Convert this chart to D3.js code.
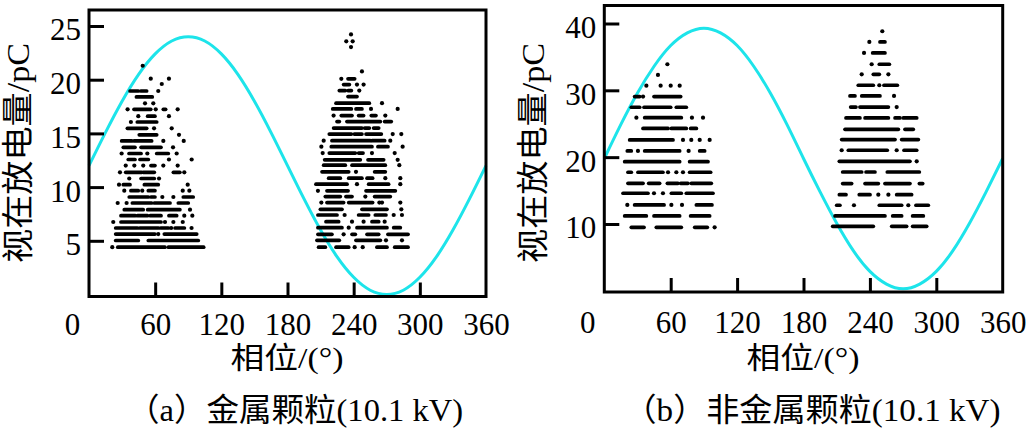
<!DOCTYPE html>
<html><head><meta charset="utf-8">
<script src="https://cdn.jsdelivr.net/npm/d3@7"></script>
<style>html,body{margin:0;padding:0;background:#fff;} svg{display:block;}</style>
</head><body>
<svg id="chart" width="1026" height="430"></svg>
<script>
// ---------- data ----------
const phaseTickValues = [0, 60, 120, 180, 240, 300, 360];
const metalYTicks = [5, 10, 15, 20, 25];
const nonMetalYTicks = [10, 20, 30, 40];
const yTitle = "视在放电量/pC";
const xTitle = "相位/(°)";
const captions = ["（a）金属颗粒(10.1 kV)", "（b）非金属颗粒(10.1 kV)"];

// reference voltage waveform, read every 15°
const sinePhase = [0,15,30,45,60,75,90,105,120,135,150,165,180,195,210,225,240,255,270,285,300,315,330,345,360];
const metalSine = [12,15.1,18,20.5,22.4,23.6,24,23.6,22.4,20.5,18,15.1,12,8.9,6,3.5,1.6,0.4,0,0.4,1.6,3.5,6,8.9,12];
const nonMetalSine = [19.8,24.9,29.6,33.6,36.7,38.6,39.3,38.6,36.7,33.6,29.6,24.9,19.8,14.8,10.1,6.0,2.9,1.0,0.3,1.0,2.9,6.0,10.1,14.8,19.8];

// PRPD pulses: [charge pC, [phase | [phaseStart, phaseEnd] runs]]
const metalPos = [
 [21.3,[48.7]],
 [20.1,[56.0,72.5]],
 [19.6,[66.0]],
 [18.95,[[37.2,44.7],[47.0,52.3],62.8]],
 [18.4,[[43.0,57.4]]],
 [17.8,[50.8,58.3]],
 [17.24,[35.0,[40.8,56.0],60.5,[67.4,69.5],80.4]],
 [16.6,[44.7,[53.2,59.8],72.5]],
 [16.06,[38.0,[43.8,61.4]]],
 [15.47,[[34.8,52.3],59.0,75.0]],
 [14.87,[[45.6,61.4],81.6]],
 [14.3,[[29.6,38.7],[40.8,56.8],67.4,85.9]],
 [13.7,[[31.1,41.7],[47.2,65.3],76.2]],
 [13.13,[29.6,[36.3,47.2],52.9,[61.4,71.9],79.5]],
 [12.57,[[35.6,41.7],[46.2,53.8],72.5,93.1]],
 [12.0,[33.3,41.1,49.2,[56.2,59.8],67.4,80.4]],
 [11.38,[28.1,[33.3,47.8],[49.2,59.2],[76.5,82.4],86.4]],
 [10.8,[36.5,[47.2,59.2],63.5]],
 [10.23,[27.2,[31.1,37.2],[50.2,62.8],89.5]],
 [9.67,[32.0,[38.0,44.7],48.3,[53.8,59.8],85.0,91.0]],
 [9.08,[[36.5,53.8],[56.2,59.8],66.5,76.5,[85.5,94.5]]],
 [8.52,[26.0,34.1,[39.3,56.8],[59.2,73.5],[81.0,90.0]]],
 [7.9,[[32.0,49.2],[53.2,82.4],91.6]],
 [7.34,[[29.0,42.0],[44.0,53.0],[55.5,65.3],[72.5,79.5],86.4,93.7]],
 [6.75,[22.0,[29.0,65.3],68.9,76.5,85.0]],
 [6.19,[[24.2,44.0],[46.0,63.0],[65.0,72.0],74.5,[78.0,86.5],93.0]],
 [5.63,[[24.2,59.8],62.8,[68.3,97.7]]],
 [5.03,[[24.2,44.7],[53.8,99.1]]],
 [4.41,[21.1,[26.1,68.9],[72.0,104.0]]]
];
const metalNeg = [
 [24.22,[237.6]],
 [23.57,[233.3,239.1]],
 [23.04,[237.6]],
 [20.77,[247.5]],
 [20.08,[228.8,[234.9,240.9]]],
 [19.55,[[230.9,236.1],243.0,249.0]],
 [18.99,[[227.0,232.4],[234.9,237.9],245.1]],
 [18.43,[[234.9,243.0]]],
 [17.81,[[224.0,254.2],265.7]],
 [17.28,[[221.0,237.9],[242.1,247.5],255.7,279.9]],
 [16.66,[221.8,[228.8,238.5],[244.5,249.0],[256.0,260.2],268.7]],
 [16.1,[[224.9,227.0],[233.9,264.2],[268.1,274.1]]],
 [15.5,[[221.8,247.5],[250.0,254.2],[258.1,262.7]]],
 [14.94,[[217.9,237.9],[240.6,247.5],[251.2,265.1],275.4,283.2]],
 [14.32,[212.8,[220.3,255.1],[256.6,268.1],273.2]],
 [13.76,[210.7,[219.7,256.6],[262.0,271.1],284.4]],
 [13.17,[211.9,[217.9,241.5],[244.5,248.5],256.6,277.2]],
 [12.54,[[213.7,246.0],[253.0,267.2],279.9]],
 [12.04,[[212.8,232.4],[238.5,268.7],281.4]],
 [11.42,[[211.3,235.5],242.1,[259.0,268.7]]],
 [10.83,[[217.3,227.9],[235.5,247.5],[252.1,257.2],268.7,282.3]],
 [10.27,[[205.8,234.0],243.0,[253.6,271.7],282.3]],
 [9.65,[207.6,[215.8,234.9],[251.2,277.8]]],
 [9.12,[[214.3,227.9],[233.0,238.5],250.6,[259.0,273.2]]],
 [8.56,[210.7,[215.8,230.9],[235.5,257.2],263.3,265.7,282.3]],
 [7.93,[[209.8,229.4],[247.5,270.2],283.2]],
 [7.4,[[207.6,224.9],231.8,[244.5,253.6],[259.6,269.3],276.3,283.8]],
 [6.78,[[214.9,226.4],238.5,249.0,[256.6,262.7],268.1]],
 [6.22,[[207.6,229.4],235.5,[243.0,270.2],[276.3,282.3]]],
 [5.6,[[207.6,220.3],230.9,[238.5,241.5],[252.1,262.7],[271.1,289.3]]],
 [5.04,[[206.7,227.0],[242.1,264.2],269.3,283.8]],
 [4.41,[[208.2,214.3],[224.0,235.5],240.9,248.2,[261.1,270.2],[277.2,289.3]]]
];
const nonMetalPos = [
 [33.9,[57.0]],
 [32.3,[48.5]],
 [30.7,[38.0,50.9,60.0,68.1]],
 [29.06,[[27.4,32.0],35.0,[44.9,69.0]]],
 [27.47,[[24.4,32.0],[35.9,60.0],[65.1,74.1]]],
 [25.9,[29.0,[36.5,69.6],79.2,89.2]],
 [24.3,[[35.0,57.6],[60.6,74.1],[78.0,83.2]]],
 [22.58,[[22.9,62.1],71.1,78.6,86.2,95.2]],
 [20.93,[[20.8,24.4],30.4,[36.5,68.1],76.2,[86.2,90.7]]],
 [19.33,[[18.4,68.1],[77.1,93.7]]],
 [17.74,[[21.4,24.4],[30.4,53.0],57.6,65.1,71.1,[77.1,96.1]]],
 [16.09,[[21.4,35.0],[40.1,50.0],[57.0,66.6],[69.0,75.6],[78.6,96.7]]],
 [14.6,[[16.9,39.5],44.9,53.0,[60.6,69.6],[74.1,98.2]]],
 [12.85,[20.8,[27.4,54.0],60.6,70.2,[83.2,97.3]]],
 [11.2,[[18.4,38.0],[44.9,68.1],[78.0,95.2]]],
 [9.5,[[24.4,35.9],[47.0,69.6],[81.7,93.1],99.7]]
];
const nonMetalNeg = [
 [38.84,[251.2]],
 [37.25,[239.5,[249.1,253.6]]],
 [35.6,[234.7,[242.5,253.6]]],
 [33.9,[241.6,[248.5,257.6]]],
 [32.4,[232.6,[243.1,248.5],256.7]],
 [30.76,[[229.5,243.1],248.5,[252.7,264.8]]],
 [29.16,[[222.0,226.5],[232.6,249.1],261.8]],
 [27.5,[[222.6,227.4],[231.0,256.7],264.2]],
 [25.87,[[218.4,231.0],[235.6,256.7],[262.7,267.2],[270.2,282.3]]],
 [24.17,[[217.5,265.7],[271.7,279.2]]],
 [22.63,[[214.5,262.7],[268.7,283.8]]],
 [21.03,[214.5,[220.5,255.7],264.2,[270.8,282.3]]],
 [19.38,[[212.4,276.2],282.3]],
 [17.78,[[215.4,232.6],[236.5,244.6],[255.7,284.7]]],
 [16.04,[[215.4,223.5],[235.6,247.6],[253.6,276.2],[284.7,287.7]]],
 [14.39,[[212.4,218.4],[230.4,240.1],247.6,256.7,[264.2,277.7]]],
 [12.8,[[210.0,212.9],225.6,[248.5,268.7],274.7,[281.6,292.8]]],
 [11.2,[[208.5,253.6],[260.6,268.7],[278.6,288.3]]],
 [9.65,[[206.4,243.1],[259.7,273.2],[278.6,291.3]]]
];

// ---------- layout ----------
const panels = [
  {x0:89, x1:486, top:10, bottom:296.5, yDomain:[0,25], yRange:[294.5,26], yTicks:metalYTicks,
   sine:metalSine, clusters:[metalPos, metalNeg], yTitleX:18, xPad:16, xTitleX:287, capX:295, capLen:336},
  {x0:604.3, x1:1002.7, top:5.5, bottom:292, yDomain:[0,40], yRange:[290.8,23.5], yTicks:nonMetalYTicks,
   sine:nonMetalSine, clusters:[nonMetalPos, nonMetalNeg], yTitleX:533, xPad:19, xTitleX:803, capX:812, capLen:377}
];
const serif = "'Liberation Serif','Times New Roman',serif";
const cjk = "'Liberation Serif','Noto Sans CJK SC',serif";
const cyan = "#1de4ea";

const svg = d3.select("#chart");

panels.forEach((p, pi) => {
  const x = d3.scaleLinear().domain([0,360]).range([p.x0, p.x1]);
  const y = d3.scaleLinear().domain(p.yDomain).range(p.yRange);
  const g = svg.append("g");

  // sine reference
  const line = d3.line().x((d,i)=>x(sinePhase[i])).y(d=>y(d)).curve(d3.curveNatural);
  g.append("path").datum(p.sine).attr("d", line)
    .attr("fill","none").attr("stroke",cyan).attr("stroke-width",3);

  // pulses
  p.clusters.forEach(cluster => {
    cluster.forEach(([q, segs]) => {
      segs.forEach(s => {
        if (Array.isArray(s)) {
          g.append("line").attr("x1",x(s[0])).attr("x2",x(s[1]))
            .attr("y1",y(q)).attr("y2",y(q))
            .attr("stroke","#000").attr("stroke-width",3.7).attr("stroke-linecap","round");
        } else {
          g.append("circle").attr("cx",x(s)).attr("cy",y(q)).attr("r",2.1).attr("fill","#000");
        }
      });
    });
  });

  // frame
  g.append("rect").attr("x",p.x0).attr("y",p.top)
    .attr("width",p.x1-p.x0).attr("height",p.bottom-p.top)
    .attr("fill","none").attr("stroke","#000").attr("stroke-width",3);

  // x axis (inside ticks)
  const xa = g.append("g").attr("transform",`translate(0,${p.bottom})`)
    .call(d3.axisBottom(x).tickValues(phaseTickValues).tickSize(-14).tickPadding(p.xPad).tickFormat(d3.format("d")));
  xa.select(".domain").remove();
  xa.selectAll(".tick line").attr("stroke","#000").attr("stroke-width",3)
    .filter(d => d===0 || d===360).remove();
  xa.selectAll(".tick text").attr("font-family",serif).attr("font-size",31).attr("fill","#000")
    .attr("dx", d => d===0 ? -17 : 0);

  // y axis (inside ticks)
  const ya = g.append("g").attr("transform",`translate(${p.x0},0)`)
    .call(d3.axisLeft(y).tickValues(p.yTicks).tickSize(-15).tickPadding(8).tickFormat(d3.format("d")));
  ya.select(".domain").remove();
  ya.selectAll(".tick line").attr("stroke","#000").attr("stroke-width",3);
  ya.selectAll(".tick text").attr("font-family",serif).attr("font-size",31).attr("fill","#000")
    .attr("dy","0.45em");

  // titles
  g.append("text").attr("transform",`translate(${p.yTitleX},153) rotate(-90)`)
    .attr("text-anchor","middle").attr("dominant-baseline","central")
    .attr("font-family",cjk).attr("font-size",32)
    .attr("textLength",220).attr("lengthAdjust","spacingAndGlyphs").text(yTitle);
  g.append("text").attr("x",p.xTitleX).attr("y",368).attr("text-anchor","middle")
    .attr("font-family",cjk).attr("font-size",30)
    .attr("textLength",113).attr("lengthAdjust","spacingAndGlyphs").text(xTitle);
  g.append("text").attr("x",p.capX).attr("y",421).attr("text-anchor","middle")
    .attr("font-family",cjk).attr("font-size",32)
    .attr("textLength",p.capLen).attr("lengthAdjust","spacingAndGlyphs")
    .text(captions[pi]);
});
</script>
</body></html>
